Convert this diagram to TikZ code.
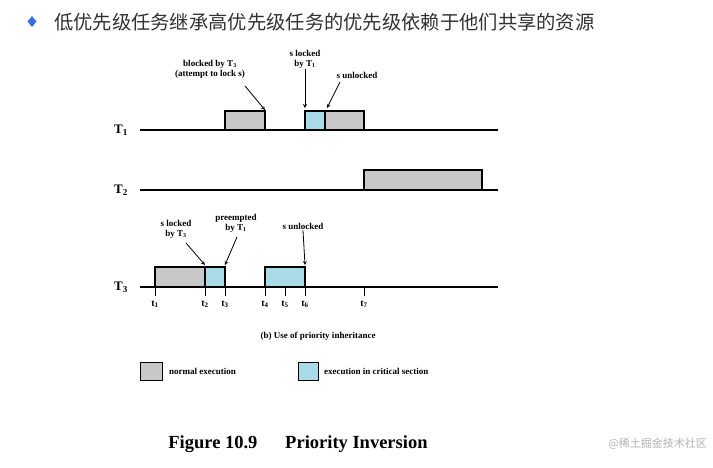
\documentclass[tikz,border=0pt]{standalone}
\usepackage{fontspec}
\setmainfont{Liberation Serif}
\newfontfamily\cjk{Noto Sans CJK SC}
\definecolor{cyanbox}{RGB}{168,218,232}
\definecolor{graybox}{RGB}{200,200,200}
\definecolor{titlec}{RGB}{50,50,50}
\definecolor{diam}{RGB}{60,110,220}
\begin{document}
\begin{tikzpicture}[x=1pt,y=-1pt,
  lbl/.style={font=\bfseries\fontsize{9}{10}\selectfont,align=center,inner sep=1pt},
  tl/.style={line width=1.4pt},
  nb/.style={draw,line width=1.3pt,fill=graybox},
  cb/.style={draw,line width=1.3pt,fill=cyanbox},
  ar/.style={-stealth,line width=0.8pt},
  tk/.style={font=\bfseries\fontsize{10}{11}\selectfont,inner sep=1pt}]
\useasboundingbox (0,0) rectangle (713,467);
\fill[white] (0,0) rectangle (713,467);
% title
\fill[diam] (32,16) -- (36.5,21.5) -- (32,27) -- (27.5,21.5) -- cycle;
\node[anchor=west,text=titlec,inner sep=0] (title) at (54,22) {\cjk\fontsize{19.3}{22}\selectfont 低优先级任务继承高优先级任务的优先级依赖于他们共享的资源};
% timelines
\node[font=\bfseries\fontsize{13}{14}\selectfont] (L1) at (121,130) {T\textsubscript{1}};
\node[font=\bfseries\fontsize{13}{14}\selectfont] (L2) at (121,190) {T\textsubscript{2}};
\node[font=\bfseries\fontsize{13}{14}\selectfont] (L3) at (121,287) {T\textsubscript{3}};
\draw[tl] (140,130) -- (498,130);
\draw[tl] (140,190) -- (498,190);
\draw[tl] (140,287) -- (498,287);
% T1 boxes
\draw[nb] (225,111) rectangle (265,130);
\draw[cb] (305,111) rectangle (325,130);
\draw[nb] (325,111) rectangle (364,130);
% T2
\draw[nb] (364,170) rectangle (482,190);
% T3
\draw[nb] (155,267) rectangle (205,287);
\draw[cb] (205,267) rectangle (225,287);
\draw[cb] (265,267) rectangle (305,287);
% ticks
\foreach \x/\n in {155/1,205/2,225/3,265/4,285/5,305/6,364/7}{
  \draw[line width=0.8pt] (\x,287) -- (\x,296);
  \node[tk] at (\x,304) {t\textsubscript{\n}};
}
% T1 annotations
\node[lbl] (a1) at (210,69) {blocked by T\textsubscript{3}\\(attempt to lock s)};
\coordinate (a1e) at (265,110);
\draw[ar] (245,86) -- (a1e);
\node[lbl] (a2) at (305,59) {s locked\\by T\textsubscript{1}};
\coordinate (a2e) at (305,108);
\draw[ar] (a2.south) -- (a2e);
\node[lbl] (a3) at (357,75) {s unlocked};
\coordinate (a3e) at (327,108);
\draw[ar] (340,82) -- (a3e);
% T3 annotations
\node[lbl] (b1) at (176,229) {s locked\\by T\textsubscript{3}};
\coordinate (b1e) at (205,265);
\draw[ar] (186,243) -- (b1e);
\node[lbl] (b2) at (236,223) {preempted\\by T\textsubscript{1}};
\coordinate (b2e) at (225,265);
\draw[ar] (237,237) -- (b2e);
\node[lbl] (b3) at (303,226) {s unlocked};
\coordinate (b3e) at (305,265);
\draw[ar] (b3.south) -- (b3e);
\node[lbl] (cap) at (318,336) {(b) Use of priority inheritance};
% legend
\draw[nb,line width=1pt] (140,362) rectangle (162,380);
\node[lbl,anchor=west] (n1) at (168,371) {normal execution};
\draw[cb,line width=1pt] (298,362) rectangle (318,380);
\node[lbl,anchor=west] (n2) at (323,371) {execution in critical section};
\node[font=\bfseries\fontsize{18.5}{20}\selectfont] (fig) at (298,444) {Figure 10.9\hspace{1.5em}Priority Inversion};
\node[anchor=east,text=black!30,inner sep=0] (wm) at (707,444) {\cjk\fontsize{11}{13}\selectfont @稀土掘金技术社区};
\end{tikzpicture}
\end{document}
